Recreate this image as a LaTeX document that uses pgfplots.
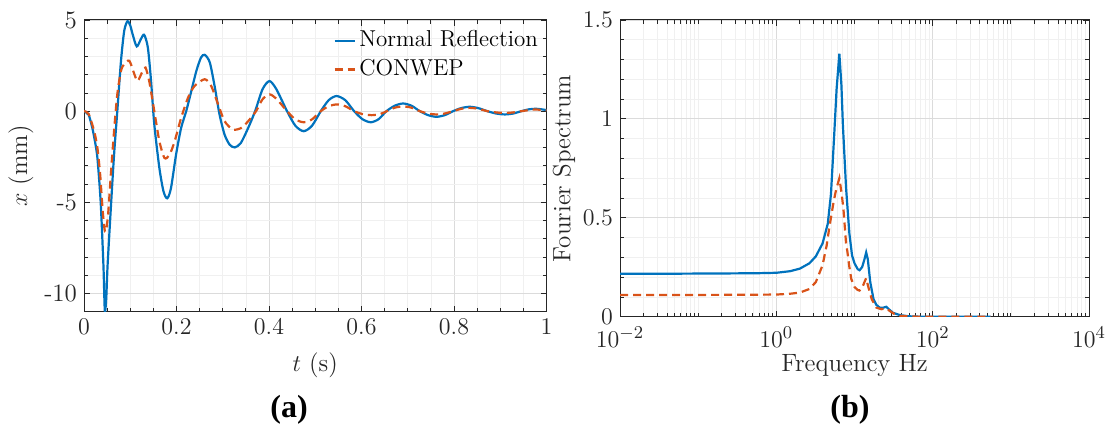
\documentclass[border=0pt]{standalone}
\usepackage{fontspec}
\usepackage{pgfplots}
\pgfplotsset{compat=1.18}
\newfontfamily\capfont{Liberation Serif}
\definecolor{mblue}{rgb}{0,0.447,0.741}
\definecolor{morange}{rgb}{0.85,0.325,0.098}
\definecolor{axcol}{rgb}{0.15,0.15,0.15}
\pgfplotsset{
 mstyle/.style={
  scale only axis,
  axis line style={axcol, line width=0.5pt},
  tick style={axcol, line width=0.4pt},
  major tick length=3pt, minor tick length=1.8pt,
  tick align=inside,
  grid=both,
  major grid style={black!14, line width=0.4pt},
  minor grid style={black!6, line width=0.3pt},
  tick label style={font=\fontsize{12.5}{15}\selectfont, text=axcol},
  label style={font=\fontsize{12.5}{15}\selectfont, text=axcol},
 }
}
\begin{document}
\begin{tikzpicture}
\path[use as bounding box] (0,0) rectangle (553pt,213pt);
\begin{axis}[mstyle, at={(42pt,57.15pt)}, anchor=south west,
 width=231.25pt, height=145.85pt,
 xmin=0, xmax=1, ymin=-11, ymax=5,
 xtick={0,0.2,0.4,0.6,0.8,1}, minor x tick num=3,
 ytick={-10,-5,0,5}, yticklabels={-10,-5,0,5}, minor y tick num=4,
 xlabel={$t$ (s)}, ylabel={$x$ (mm)},
 xlabel style={at={(axis description cs:0.5,-0.1827)}, anchor=center},
 ylabel style={at={(axis description cs:-0.1362,0.5)}, anchor=center},
 legend style={at={(1,1)}, anchor=north east, xshift=-2.6pt, yshift=-3.3pt,
   draw=none, fill=none, inner sep=0pt, row sep=0.3pt,
   font=\fontsize{11.5}{14}\selectfont,
   nodes={inner sep=1.5pt, text height=8.5pt, text depth=2.5pt}},
 legend cell align=left,
 legend image code/.code={\draw[#1] (0pt,0pt) -- (10.3pt,0pt);},
]
\addplot[mblue, line width=1.1pt, smooth, tension=0.45] coordinates {
(0,0) (0.010,-0.2) (0.018,-0.92) (0.024,-1.7) (0.029,-2.57) (0.036,-4.96) (0.042,-8.46)
(0.045,-10.95) (0.048,-10.3) (0.051,-8.46) (0.058,-5.33) (0.065,-2.39) (0.072,0)
(0.080,2.76) (0.087,4.41) (0.094,4.93) (0.100,4.7) (0.105,4.23) (0.114,3.55)
(0.123,3.95) (0.130,4.19) (0.138,3.5) (0.145,1.65) (0.152,-0.73) (0.163,-3.12)
(0.172,-4.41) (0.180,-4.78) (0.188,-4.23) (0.199,-2.39) (0.210,-0.92) (0.221,0)
(0.232,1.10) (0.243,2.21) (0.253,2.94) (0.261,3.09) (0.272,2.67) (0.283,1.29)
(0.293,-0.18) (0.304,-1.29) (0.315,-1.84) (0.326,-1.99) (0.339,-1.75) (0.355,-0.92)
(0.370,0) (0.386,1.2) (0.401,1.65) (0.416,1.2) (0.439,0) (0.457,-0.8) (0.475,-1.10)
(0.493,-0.8) (0.512,0) (0.529,0.6) (0.546,0.83) (0.565,0.6) (0.584,0) (0.602,-0.44)
(0.620,-0.61) (0.637,-0.44) (0.654,0) (0.672,0.3) (0.690,0.42) (0.708,0.3) (0.726,0)
(0.744,-0.22) (0.762,-0.31) (0.780,-0.22) (0.798,0) (0.816,0.17) (0.834,0.24)
(0.852,0.17) (0.872,0) (0.891,-0.13) (0.910,-0.18) (0.928,-0.13) (0.946,0)
(0.962,0.10) (0.978,0.13) (1.0,0.06)
};
\addlegendentry{Normal Reflection}
\addplot[morange, line width=1.1pt, dash pattern=on 4pt off 2.5pt, smooth, tension=0.45] coordinates {
(0,0) (0.010,-0.15) (0.022,-1.10) (0.029,-2.02) (0.035,-3.49) (0.040,-5.33) (0.044,-6.4)
(0.047,-6.62) (0.052,-5.70) (0.058,-3.49) (0.065,-1.10) (0.072,0.92) (0.080,2.21)
(0.087,2.58) (0.098,2.76) (0.109,2.02) (0.116,1.65) (0.127,2.21) (0.133,2.39)
(0.141,1.65) (0.152,0) (0.163,-1.65) (0.174,-2.57) (0.185,-2.39) (0.196,-1.65)
(0.210,-0.37) (0.225,0.74) (0.239,1.38) (0.261,1.75) (0.275,1.38) (0.290,0.37)
(0.304,-0.55) (0.322,-1.01) (0.340,-0.92) (0.355,-0.55) (0.372,0) (0.386,0.65)
(0.401,0.92) (0.416,0.68) (0.439,0) (0.457,-0.45) (0.475,-0.61) (0.493,-0.45)
(0.512,0) (0.529,0.27) (0.547,0.37) (0.565,0.27) (0.584,0) (0.602,-0.16) (0.622,-0.22)
(0.640,-0.16) (0.655,0) (0.672,0.19) (0.690,0.26) (0.708,0.19) (0.726,0) (0.744,-0.13)
(0.762,-0.18) (0.780,-0.13) (0.798,0) (0.816,0.13) (0.834,0.18) (0.852,0.13) (0.872,0)
(0.891,-0.07) (0.910,-0.10) (0.928,-0.07) (0.946,0) (0.965,0.07) (0.978,0.09) (1.0,0.04)
};
\addlegendentry{CONWEP}
\end{axis}
\begin{axis}[mstyle, at={(310pt,54.65pt)}, anchor=south west,
 width=234.5pt, height=148.35pt,
 xmode=log, xmin=1e-2, xmax=1e4, ymin=0, ymax=1.5,
 xtick={0.01,1,100,10000},
 minor xtick={0.02,0.03,0.04,0.05,0.06,0.07,0.08,0.09,0.1,0.2,0.3,0.4,0.5,0.6,0.7,0.8,0.9,
   2,3,4,5,6,7,8,9,10,20,30,40,50,60,70,80,90,200,300,400,500,600,700,800,900,1000,
   2000,3000,4000,5000,6000,7000,8000,9000},
 ytick={0,0.5,1,1.5}, minor y tick num=4,
 xlabel={Frequency Hz}, ylabel={Fourier Spectrum},
 xticklabel style={yshift=-1.5pt},
 xlabel style={at={(axis description cs:0.5,-0.1662)}, anchor=center},
 ylabel style={at={(axis description cs:-0.1194,0.5)}, anchor=center},
]
\addplot[mblue, line width=1.1pt] coordinates {
(0.01,0.217) (0.03,0.217) (0.1,0.218) (0.3,0.219) (0.6,0.220) (1,0.222) (1.5,0.230)
(2,0.243) (2.65,0.27) (3.2,0.305) (3.9,0.37) (4.55,0.47) (5.0,0.62) (5.5,0.92)
(5.9,1.15) (6.4,1.33) (6.8,1.17) (7.1,0.97) (7.8,0.65) (8.6,0.42) (9.3,0.31) (10,0.27)
(11,0.24) (11.6,0.235) (12.5,0.25) (13.4,0.29) (14.1,0.325) (14.8,0.29) (15.9,0.175)
(17.5,0.089) (19,0.06) (21,0.046) (23,0.045) (25.5,0.05) (28,0.035) (31,0.02)
(38,0.008) (50,0.002) (70,0) (550,0)
};
\addplot[morange, line width=1.1pt, dash pattern=on 4pt off 2.5pt] coordinates {
(0.01,0.11) (0.1,0.11) (0.5,0.111) (1,0.112) (1.5,0.116) (2,0.122) (2.65,0.14)
(3.2,0.175) (3.9,0.26) (4.4,0.36) (4.8,0.46) (5.4,0.58) (5.8,0.64) (6.4,0.70)
(6.8,0.63) (7.2,0.55) (7.8,0.37) (8.1,0.33) (8.6,0.25) (9.1,0.19) (10,0.15)
(11,0.135) (11.6,0.132) (12.5,0.145) (13.4,0.175) (14.1,0.195) (14.8,0.16)
(16.6,0.089) (19,0.046) (22,0.038) (25.5,0.042) (28,0.03) (32,0.015) (38,0.005)
(50,0.001) (70,0) (550,0)
};
\end{axis}
\node[font=\capfont\bfseries\fontsize{16}{19}\selectfont] at (144.5pt,8pt) {(a)};
\node[font=\capfont\bfseries\fontsize{16}{19}\selectfont] at (425pt,8pt) {(b)};
\end{tikzpicture}
\end{document}
